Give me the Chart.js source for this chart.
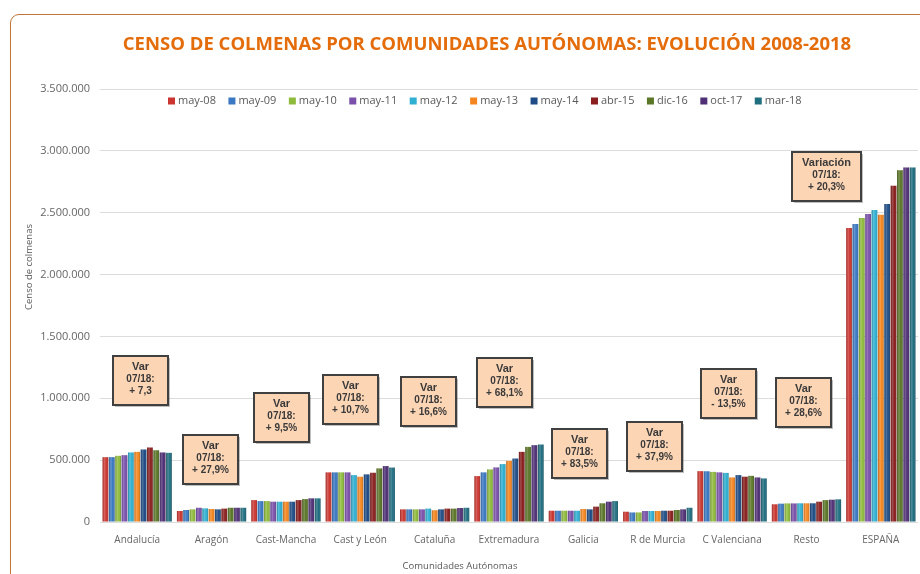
<!DOCTYPE html>
<html>
<head>
<meta charset="utf-8">
<script src="https://cdn.jsdelivr.net/npm/chart.js@4.4.0/dist/chart.umd.min.js"></script>
<style>
    html, body { margin: 0; padding: 0; background: #fff; }
    #wrap { position: relative; width: 920px; height: 574px; overflow: hidden; }
    #frame {
        position: absolute; left: 10px; top: 14px; width: 980px; height: 640px;
        border: 1.5px solid #c27438; border-radius: 9px; box-sizing: border-box;
    }
    #chart { position: absolute; left: 0; top: 0; }
</style>
</head>
<body>
<div id="wrap">
    <div id="frame"></div>
    <canvas id="chart" width="920" height="574"></canvas>
</div>
<script>
// categories and periods
const comunidades = ['Andalucía', 'Aragón', 'Cast-Mancha', 'Cast y León', 'Cataluña', 'Extremadura',
    'Galicia', 'R de Murcia', 'C Valenciana', 'Resto', 'ESPAÑA'];
const periodos = ['may-08', 'may-09', 'may-10', 'may-11', 'may-12', 'may-13', 'may-14', 'abr-15', 'dic-16', 'oct-17', 'mar-18'];

// censo de colmenas por periodo (mismo orden que comunidades)
const may08 = [524000, 89000, 177000, 401000, 102000, 371000, 91000, 83000, 411000, 143000, 2377000];
const may09 = [524000, 97000, 169000, 401000, 102000, 401000, 91000, 77000, 410000, 148000, 2409000];
const may10 = [535000, 102000, 169000, 401000, 102000, 425000, 91000, 77000, 405000, 150000, 2457000];
const may11 = [540000, 115000, 164000, 401000, 102000, 441000, 91000, 89000, 401000, 150000, 2490000];
const may12 = [562000, 110000, 164000, 379000, 108000, 468000, 91000, 89000, 397000, 151000, 2522000];
const may13 = [567000, 105000, 164000, 366000, 95000, 494000, 105000, 89000, 360000, 151000, 2484000];
const may14 = [586000, 102000, 164000, 385000, 102000, 513000, 102000, 91000, 379000, 151000, 2570000];
const abr15 = [602000, 108000, 177000, 398000, 108000, 567000, 124000, 91000, 366000, 164000, 2718000];
const dic16 = [580000, 115000, 185000, 433000, 108000, 607000, 151000, 97000, 373000, 177000, 2844000];
const oct17 = [562000, 115000, 191000, 452000, 113000, 621000, 164000, 102000, 360000, 180000, 2866000];
const mar18 = [559000, 115000, 191000, 440000, 115000, 626000, 169000, 115000, 352000, 183000, 2866000];
const series = [may08, may09, may10, may11, may12, may13, may14, abr15, dic16, oct17, mar18];

// variacion 07/18 por comunidad
const varTitulos = ['Var', 'Var', 'Var', 'Var', 'Var', 'Var', 'Var', 'Var', 'Var', 'Var', 'Variación'];
const varTextos = ['+ 7,3', '+ 27,9%', '+ 9,5%', '+ 10,7%', '+ 16,6%', '+ 68,1%', '+ 83,5%', '+ 37,9%', '- 13,5%', '+ 28,6%', '+ 20,3%'];

const yTicks = [0, 500000, 1000000, 1500000, 2000000, 2500000, 3000000, 3500000];

// layout of the variation boxes: x offset from category centre (px), y centre as axis value
const boxDx = [3, -1.5, -4.5, -10, -6, -4.5, -3.5, -3, -3.5, -3, -54];
const boxY = [1144000, 505000, 841000, 994000, 970000, 1124000, 550000, 610000, 1035000, 966000, 2789000];

const colores = ['#cc352f', '#3a78c3', '#8fbb3c', '#7a50ab', '#2fb0d2', '#f5861f',
    '#1d4c86', '#8a1d1d', '#5a7626', '#4f2f76', '#1f6e80'];

const FONT = '"Open Sans", "DejaVu Sans", sans-serif';

function fmt(v) {
    return String(v).replace(/\B(?=(\d{3})+(?!\d))/g, '.');
}

const extras = {
    id: 'extras',
    afterDatasetsDraw(chart) {
        // cylinder-like shading on top of each bar
        const ctx = chart.ctx;
        ctx.save();
        chart.data.datasets.forEach((ds, di) => {
            chart.getDatasetMeta(di).data.forEach((bar) => {
                const l = bar.x - bar.width / 2;
                const g = ctx.createLinearGradient(l, 0, l + bar.width, 0);
                g.addColorStop(0, 'rgba(0,0,0,0.22)');
                g.addColorStop(0.35, 'rgba(255,255,255,0.22)');
                g.addColorStop(0.65, 'rgba(255,255,255,0)');
                g.addColorStop(1, 'rgba(0,0,0,0.25)');
                ctx.fillStyle = g;
                ctx.fillRect(l, bar.y, bar.width, bar.base - bar.y);
            });
        });
        ctx.restore();
    },
    afterDraw(chart) {
        const ctx = chart.ctx;
        const xs = chart.scales.x;
        const ys = chart.scales.y;
        ctx.save();

        // title
        ctx.fillStyle = '#e46c0a';
        ctx.font = 'bold 18.5px ' + FONT;
        ctx.textAlign = 'center';
        ctx.textBaseline = 'middle';
        ctx.fillText('CENSO DE COLMENAS POR COMUNIDADES AUTÓNOMAS: EVOLUCIÓN 2008-2018', 487, 45);

        // legend
        ctx.font = '11px ' + FONT;
        ctx.textAlign = 'left';
        let lx = 168;
        chart.data.datasets.forEach((ds) => {
            ctx.fillStyle = ds.backgroundColor;
            ctx.fillRect(lx, 97.5, 7, 7);
            ctx.fillStyle = '#595959';
            ctx.fillText(ds.label, lx + 10, 101);
            lx += 10 + ctx.measureText(ds.label).width + 12.5;
        });

        // axis titles
        ctx.fillStyle = '#595959';
        ctx.font = '9.5px ' + FONT;
        ctx.textAlign = 'center';
        ctx.fillText('Comunidades Autónomas', 460, 566);
        ctx.save();
        ctx.translate(29, 267);
        ctx.rotate(-Math.PI / 2);
        ctx.fillText('Censo de colmenas', 0, 0);
        ctx.restore();

        // variation boxes
        comunidades.forEach((c, i) => {
            const w = i === 10 ? 69 : 55;
            const h = 49;
            const cx = xs.getPixelForValue(i) + boxDx[i];
            const cy = ys.getPixelForValue(boxY[i]);
            const left = Math.round(cx - w / 2);
            const top = Math.round(cy - h / 2);
            ctx.fillStyle = 'rgba(0,0,0,0.25)';
            ctx.fillRect(left + 2, top + 2, w, h);
            ctx.fillStyle = '#fcd5b5';
            ctx.fillRect(left, top, w, h);
            ctx.strokeStyle = '#404040';
            ctx.lineWidth = 2;
            ctx.strokeRect(left, top, w, h);
            ctx.fillStyle = '#3a3a3a';
            ctx.textAlign = 'center';
            ctx.font = 'bold 11px "Liberation Sans", Arial, sans-serif';
            ctx.fillText(varTitulos[i], left + w / 2, top + 11);
            ctx.font = 'bold 10px "Liberation Sans", Arial, sans-serif';
            ctx.fillText('07/18:', left + w / 2, top + 23);
            ctx.fillText(varTextos[i], left + w / 2, top + 35);
        });
        ctx.restore();
    }
};

new Chart(document.getElementById('chart'), {
    type: 'bar',
    data: {
        labels: comunidades,
        datasets: periodos.map((p, i) => ({
            label: p,
            data: series[i],
            backgroundColor: colores[i],
            borderWidth: 0,
            categoryPercentage: 0.94,
            barPercentage: 0.9
        }))
    },
    options: {
        responsive: false,
        animation: false,
        layout: { padding: { top: 89, right: 2, left: 0, bottom: 0 } },
        plugins: {
            legend: { display: false },
            title: { display: false },
            tooltip: { enabled: false }
        },
        scales: {
            x: {
                grid: { display: false },
                border: { display: false },
                ticks: { color: '#666', font: { family: FONT, size: 10 }, padding: 4, maxRotation: 0, autoSkip: false },
                afterFit(scale) { scale.height = 52; }
            },
            y: {
                min: 0,
                max: 3500000,
                afterBuildTicks(scale) { scale.ticks = yTicks.map((v) => ({ value: v })); },
                grid: { color: '#dcdcdc', drawTicks: false, lineWidth: 1 },
                border: { display: false },
                ticks: { color: '#666', font: { family: FONT, size: 11 }, padding: 10, callback: (v) => fmt(v) },
                afterFit(scale) { scale.width = 100; }
            }
        }
    },
    plugins: [extras]
});
</script>
</body>
</html>
